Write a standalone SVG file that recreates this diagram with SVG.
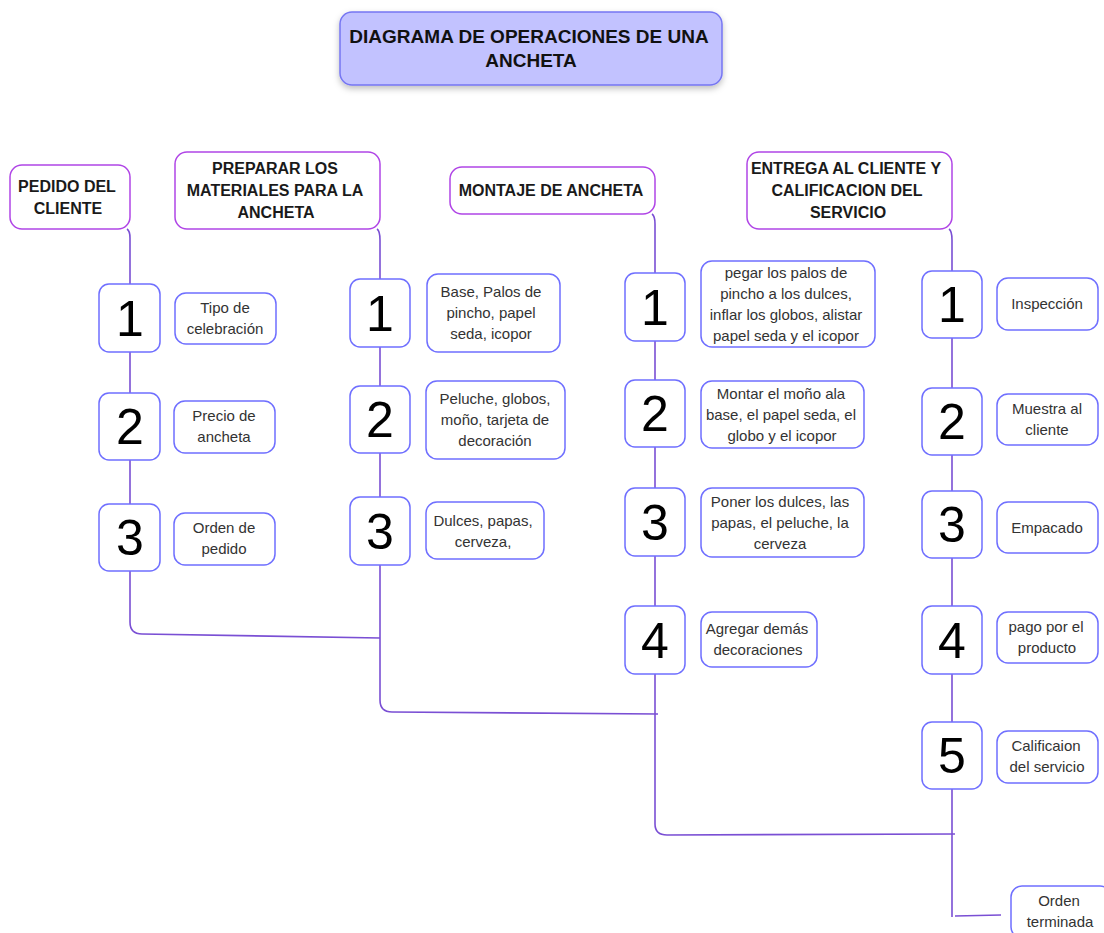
<svg xmlns="http://www.w3.org/2000/svg" width="1104" height="933" viewBox="0 0 1104 933">
<defs>
<filter id="sh" x="-10%" y="-20%" width="120%" height="150%"><feDropShadow dx="0" dy="3" stdDeviation="3" flood-color="#000" flood-opacity="0.25"/></filter>
</defs>
<style>
.title{fill:#c2c2ff;stroke:#7676f2;stroke-width:1.5}
.hdr{fill:#fff;stroke:#b045e6;stroke-width:1.5}
.num{fill:#fff;stroke:#6f6fff;stroke-width:1.5}
.desc{fill:#fff;stroke:#6f6fff;stroke-width:1.5}
.tt{font-family:"Liberation Sans",Arial,sans-serif;font-weight:bold;font-size:19px;fill:#111;text-anchor:middle}
.ht{font-family:"Liberation Sans",Arial,sans-serif;font-weight:bold;font-size:16px;fill:#1a1a1a;text-anchor:middle}
.nt{font-family:"Liberation Sans",Arial,sans-serif;font-size:50px;fill:#000;text-anchor:middle}
.dt{font-family:"Liberation Sans",Arial,sans-serif;font-size:15px;fill:#333;text-anchor:middle}
.con{fill:none;stroke:#7a4fd4;stroke-width:1.6}
</style>
<g id="connectors">
<path class="con" d="M127,229 Q130,231 130,238 L130,622 Q130,634 142,634 L380,638"/>
<path class="con" d="M377,229 Q380,231 380,240 L380,700 Q380,712 392,712 L658,714"/>
<path class="con" d="M652,214 Q655,216 655,224 L655,824 Q655,835 667,835 L955,834"/>
<path class="con" d="M949,229 Q952,231 952,240 L952,917"/>
<path class="con" d="M955,916 L1001,915"/>
</g>
<g id="title">
<rect class="title" x="340" y="12" width="382" height="73" rx="12" filter="url(#sh)"/>
<text class="tt" x="529" y="43">DIAGRAMA DE OPERACIONES DE UNA</text>
<text class="tt" x="531" y="67">ANCHETA</text>
</g>
<g id="h1">
<rect class="hdr" x="10" y="165" width="120" height="64" rx="12"/>
<text class="ht" x="67" y="192">PEDIDO DEL</text>
<text class="ht" x="68" y="214">CLIENTE</text>
</g>
<g id="h2">
<rect class="hdr" x="175" y="152" width="205" height="77" rx="12"/>
<text class="ht" x="275" y="174">PREPARAR LOS</text>
<text class="ht" x="275" y="196">MATERIALES PARA LA</text>
<text class="ht" x="276" y="218">ANCHETA</text>
</g>
<g id="h3">
<rect class="hdr" x="450" y="167" width="205" height="47" rx="12"/>
<text class="ht" x="551" y="196">MONTAJE DE ANCHETA</text>
</g>
<g id="h4">
<rect class="hdr" x="747" y="152" width="205" height="77" rx="12"/>
<text class="ht" x="846" y="174">ENTREGA AL CLIENTE Y</text>
<text class="ht" x="847" y="196">CALIFICACION DEL</text>
<text class="ht" x="848" y="218">SERVICIO</text>
</g>
<!-- Column 1 -->
<g id="c1n1"><rect class="num" x="99" y="284" width="61" height="68" rx="10"/><text class="nt" x="130" y="336">1</text></g>
<g id="c1n2"><rect class="num" x="99" y="393" width="61" height="67" rx="10"/><text class="nt" x="130" y="444">2</text></g>
<g id="c1n3"><rect class="num" x="99" y="504" width="61" height="67" rx="10"/><text class="nt" x="130" y="555">3</text></g>
<g id="c1d1"><rect class="desc" x="175" y="293" width="101" height="51" rx="11"/><text class="dt" x="225" y="313">Tipo de</text><text class="dt" x="225" y="334">celebración</text></g>
<g id="c1d2"><rect class="desc" x="174" y="401" width="101" height="52" rx="11"/><text class="dt" x="224" y="421">Precio de</text><text class="dt" x="224" y="442">ancheta</text></g>
<g id="c1d3"><rect class="desc" x="174" y="513" width="101" height="52" rx="11"/><text class="dt" x="224" y="533">Orden de</text><text class="dt" x="224" y="554">pedido</text></g>
<!-- Column 2 -->
<g id="c2n1"><rect class="num" x="350" y="279" width="60" height="68" rx="10"/><text class="nt" x="380" y="331">1</text></g>
<g id="c2n2"><rect class="num" x="350" y="386" width="60" height="67" rx="10"/><text class="nt" x="380" y="437">2</text></g>
<g id="c2n3"><rect class="num" x="350" y="497" width="60" height="68" rx="10"/><text class="nt" x="380" y="549">3</text></g>
<g id="c2d1"><rect class="desc" x="427" y="274" width="133" height="78" rx="11"/><text class="dt" x="491" y="297">Base, Palos de</text><text class="dt" x="491" y="318">pincho, papel</text><text class="dt" x="491" y="339">seda, icopor</text></g>
<g id="c2d2"><rect class="desc" x="426" y="381" width="139" height="78" rx="11"/><text class="dt" x="495" y="404">Peluche, globos,</text><text class="dt" x="495" y="425">moño, tarjeta de</text><text class="dt" x="495" y="446">decoración</text></g>
<g id="c2d3"><rect class="desc" x="426" y="502" width="118" height="57" rx="11"/><text class="dt" x="483" y="526">Dulces, papas,</text><text class="dt" x="483" y="547">cerveza,</text></g>
<!-- Column 3 -->
<g id="c3n1"><rect class="num" x="625" y="273" width="60" height="68" rx="10"/><text class="nt" x="655" y="325">1</text></g>
<g id="c3n2"><rect class="num" x="625" y="380" width="60" height="67" rx="10"/><text class="nt" x="655" y="431">2</text></g>
<g id="c3n3"><rect class="num" x="625" y="488" width="60" height="68" rx="10"/><text class="nt" x="655" y="540">3</text></g>
<g id="c3n4"><rect class="num" x="625" y="606" width="60" height="68" rx="10"/><text class="nt" x="655" y="658">4</text></g>
<g id="c3d1"><rect class="desc" x="701" y="261" width="174" height="86" rx="11"/><text class="dt" x="786" y="278">pegar los palos de</text><text class="dt" x="786" y="299">pincho a los dulces,</text><text class="dt" x="786" y="320">inflar los globos, alistar</text><text class="dt" x="786" y="341">papel seda y el icopor</text></g>
<g id="c3d2"><rect class="desc" x="701" y="381" width="163" height="67" rx="11"/><text class="dt" x="781" y="399">Montar el moño ala</text><text class="dt" x="781" y="420">base, el papel seda, el</text><text class="dt" x="782" y="441">globo y el icopor</text></g>
<g id="c3d3"><rect class="desc" x="701" y="488" width="163" height="69" rx="11"/><text class="dt" x="780" y="507">Poner los dulces, las</text><text class="dt" x="780" y="528">papas, el peluche, la</text><text class="dt" x="780" y="549">cerveza</text></g>
<g id="c3d4"><rect class="desc" x="701" y="612" width="116" height="55" rx="11"/><text class="dt" x="757" y="634">Agregar demás</text><text class="dt" x="758" y="655">decoraciones</text></g>
<!-- Column 4 -->
<g id="c4n1"><rect class="num" x="922" y="271" width="60" height="67" rx="10"/><text class="nt" x="952" y="322">1</text></g>
<g id="c4n2"><rect class="num" x="922" y="388" width="60" height="67" rx="10"/><text class="nt" x="952" y="439">2</text></g>
<g id="c4n3"><rect class="num" x="922" y="491" width="60" height="67" rx="10"/><text class="nt" x="952" y="542">3</text></g>
<g id="c4n4"><rect class="num" x="922" y="606" width="60" height="68" rx="10"/><text class="nt" x="952" y="658">4</text></g>
<g id="c4n5"><rect class="num" x="922" y="722" width="60" height="67" rx="10"/><text class="nt" x="952" y="773">5</text></g>
<g id="c4d1"><rect class="desc" x="997" y="278" width="101" height="52" rx="11"/><text class="dt" x="1047" y="309">Inspección</text></g>
<g id="c4d2"><rect class="desc" x="997" y="394" width="101" height="51" rx="11"/><text class="dt" x="1047" y="414">Muestra al</text><text class="dt" x="1047" y="435">cliente</text></g>
<g id="c4d3"><rect class="desc" x="997" y="502" width="101" height="51" rx="11"/><text class="dt" x="1047" y="533">Empacado</text></g>
<g id="c4d4"><rect class="desc" x="997" y="612" width="101" height="51" rx="11"/><text class="dt" x="1046" y="632">pago por el</text><text class="dt" x="1047" y="653">producto</text></g>
<g id="c4d5"><rect class="desc" x="997" y="731" width="101" height="52" rx="11"/><text class="dt" x="1046" y="751">Calificaion</text><text class="dt" x="1047" y="772">del servicio</text></g>
<g id="end"><rect class="desc" x="1011" y="886" width="100" height="52" rx="11"/><text class="dt" x="1059" y="906">Orden</text><text class="dt" x="1060" y="927">terminada</text></g>
</svg>
